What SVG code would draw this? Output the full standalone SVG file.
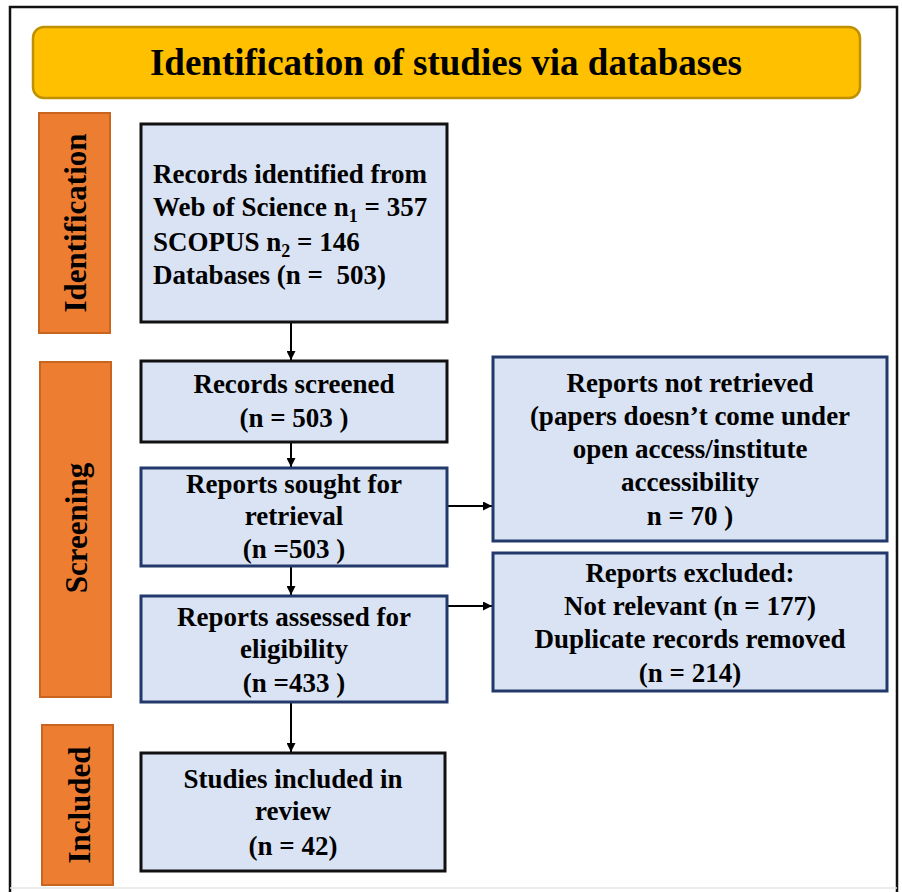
<svg xmlns="http://www.w3.org/2000/svg" width="902" height="892" viewBox="0 0 902 892">
  <defs>
    <marker id="arrow" viewBox="0 0 10 10" refX="10" refY="5" markerWidth="4.5" markerHeight="4.5" orient="auto" markerUnits="strokeWidth">
      <path d="M0,0 L10,5 L0,10 z" fill="#000"/>
    </marker>
    <style>
      text { font-family: "Liberation Serif", "Times New Roman", serif; font-weight: bold; fill: #000; }
      .title { font-size: 37px; text-anchor: middle; }
      .phase rect { fill: #ED7D31; stroke: #C9651F; stroke-width: 2; }
      .phase text { font-size: 31px; text-anchor: middle; }
      .box { fill: #DAE3F3; stroke-width: 3; }
      .blk { stroke: #111; }
      .blu { stroke: #23396B; }
      .lbl { font-size: 27px; text-anchor: middle; }
      .lft { font-size: 27px; }
      .sub { font-size: 18px; }
      .conn line { stroke: #000; stroke-width: 2; marker-end: url(#arrow); }
    </style>
  </defs>

  <rect x="0" y="0" width="902" height="892" fill="#fff"/>
  <!-- outer frame -->
  <path d="M10,892 V7 H897 V892" fill="none" stroke="#111" stroke-width="2.5"/>
  <line x1="10" y1="888" x2="897" y2="888" stroke="#e6e6e6" stroke-width="1.5"/>

  <!-- header banner -->
  <g id="header">
    <rect x="33" y="27" width="827" height="71" rx="11" ry="11" fill="#FFC000" stroke="#BF9000" stroke-width="2.5"/>
    <text class="title" x="446" y="75">Identification of studies via databases</text>
  </g>

  <!-- phase labels -->
  <g id="phase-identification" class="phase">
    <rect x="39" y="113" width="71" height="220"/>
    <text transform="translate(86,223) rotate(-90)">Identification</text>
  </g>
  <g id="phase-screening" class="phase">
    <rect x="40" y="362" width="71" height="335"/>
    <text transform="translate(87,528) rotate(-90)">Screening</text>
  </g>
  <g id="phase-included" class="phase">
    <rect x="42" y="725" width="71" height="160"/>
    <text transform="translate(90,805) rotate(-90)">Included</text>
  </g>

  <!-- connectors -->
  <g id="connectors" class="conn">
    <line x1="291" y1="322" x2="291" y2="360"/>
    <line x1="291" y1="442" x2="291" y2="467"/>
    <line x1="291" y1="566" x2="291" y2="595"/>
    <line x1="291" y1="702" x2="291" y2="752"/>
    <line x1="448" y1="506" x2="492" y2="506"/>
    <line x1="448" y1="606" x2="492" y2="606"/>
  </g>

  <!-- nodes -->
  <g id="records-identified">
    <rect class="box blk" x="141" y="124" width="306" height="198"/>
    <text class="lft" x="153" y="183">Records identified from</text>
    <text class="lft" x="153" y="216">Web of Science n<tspan class="sub" dy="6">1</tspan><tspan dy="-6"> = 357</tspan></text>
    <text class="lft" x="153" y="251">SCOPUS n<tspan class="sub" dy="6">2</tspan><tspan dy="-6"> = 146</tspan></text>
    <text class="lft" x="153" y="284" xml:space="preserve">Databases (n =  503)</text>
  </g>

  <g id="records-screened">
    <rect class="box blk" x="141" y="361" width="306" height="81"/>
    <text class="lbl" x="294" y="393">Records screened</text>
    <text class="lbl" x="294" y="427">(n = 503 )</text>
  </g>

  <g id="reports-sought">
    <rect class="box blu" x="141" y="468" width="306" height="98"/>
    <text class="lbl" x="294" y="493">Reports sought for</text>
    <text class="lbl" x="294" y="525">retrieval</text>
    <text class="lbl" x="294" y="558">(n =503 )</text>
  </g>

  <g id="reports-assessed">
    <rect class="box blu" x="141" y="596" width="306" height="106"/>
    <text class="lbl" x="294" y="626">Reports assessed for</text>
    <text class="lbl" x="294" y="658">eligibility</text>
    <text class="lbl" x="294" y="692">(n =433 )</text>
  </g>

  <g id="studies-included">
    <rect class="box blk" x="141" y="753" width="304" height="118"/>
    <text class="lbl" x="293" y="788">Studies included in</text>
    <text class="lbl" x="293" y="820">review</text>
    <text class="lbl" x="293" y="855">(n = 42)</text>
  </g>

  <g id="reports-not-retrieved">
    <rect class="box blu" x="493" y="357" width="394" height="184"/>
    <text class="lbl" x="690" y="392">Reports not retrieved</text>
    <text class="lbl" x="690" y="425">(papers doesn’t come under</text>
    <text class="lbl" x="690" y="458">open access/institute</text>
    <text class="lbl" x="690" y="491">accessibility</text>
    <text class="lbl" x="690" y="525">n = 70 )</text>
  </g>

  <g id="reports-excluded">
    <rect class="box blu" x="493" y="553" width="394" height="138"/>
    <text class="lbl" x="690" y="582">Reports excluded:</text>
    <text class="lbl" x="690" y="615">Not relevant (n = 177)</text>
    <text class="lbl" x="690" y="648">Duplicate records removed</text>
    <text class="lbl" x="690" y="682">(n = 214)</text>
  </g>
</svg>
